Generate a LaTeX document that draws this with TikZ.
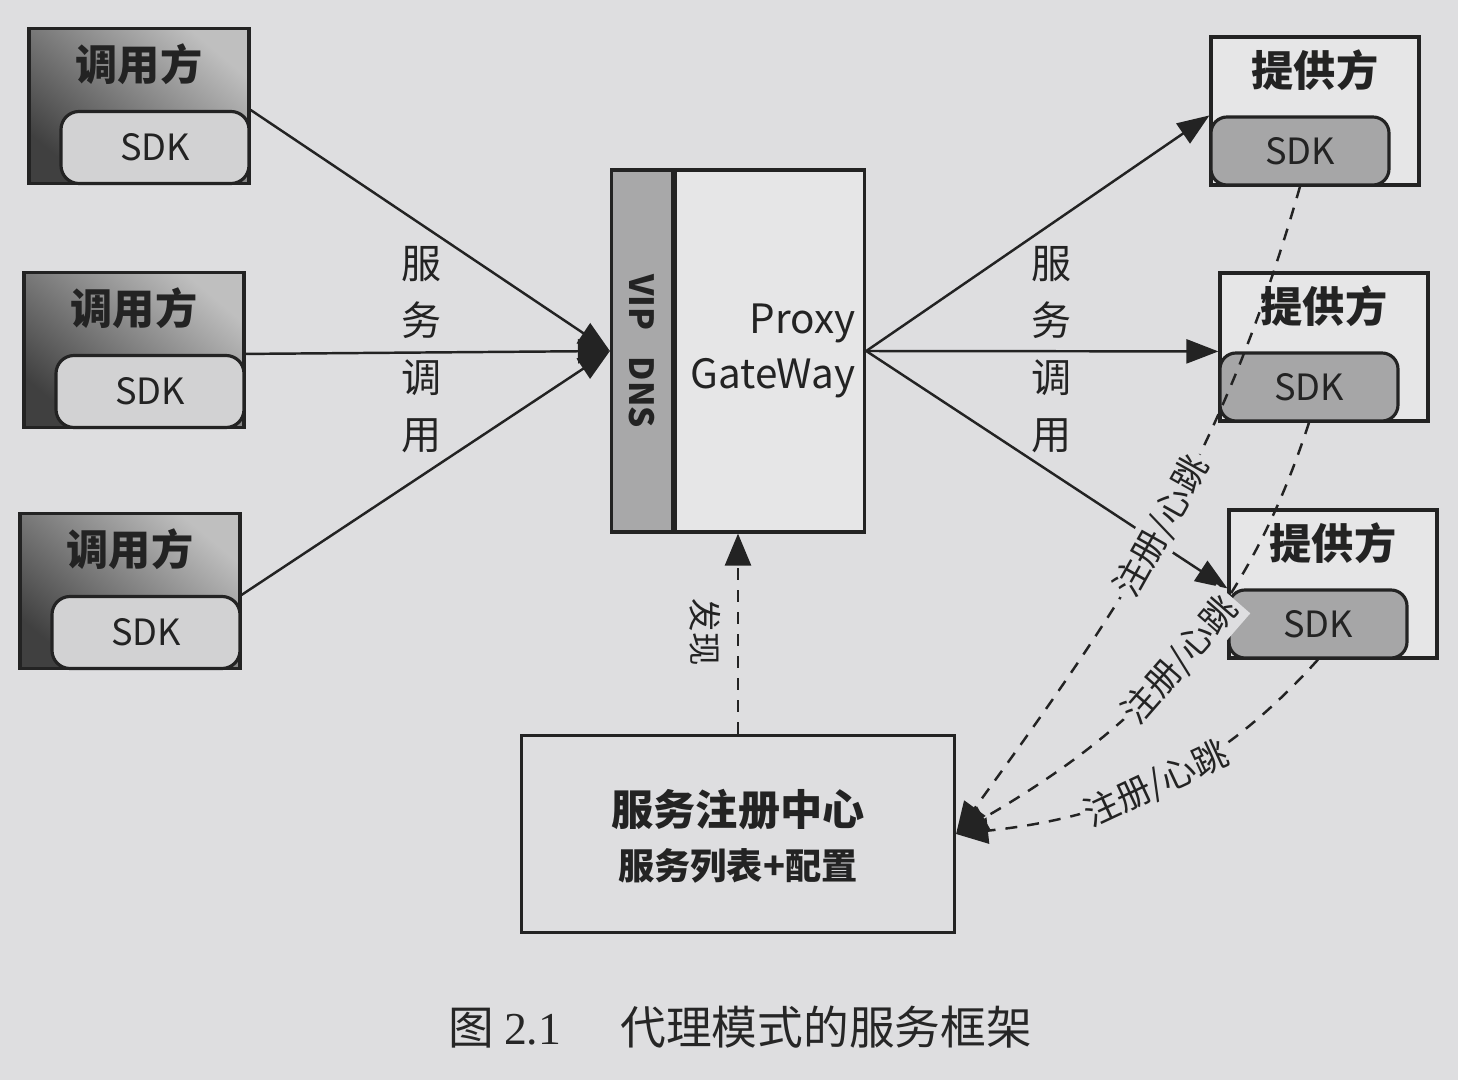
\documentclass[tikz,border=0pt]{standalone}
\usepackage{fontspec}
\setmainfont{Noto Sans CJK SC}
\newfontfamily\numfont{Liberation Serif}
\usetikzlibrary{arrows.meta,calc}

\definecolor{paper}{RGB}{222,222,224}
\definecolor{boxbg}{RGB}{230,230,231}
\definecolor{csdkbg}{RGB}{210,210,211}
\definecolor{psdkbg}{RGB}{166,166,167}
\definecolor{vipbg}{RGB}{168,168,169}
\definecolor{ink}{RGB}{35,35,35}

\tikzset{
	caller/.style={draw=ink, line width=0.9pt, minimum width=22mm, minimum height=15.5mm, inner sep=0pt,
		top color=black!25, bottom color=black!75, shading angle=-40},
	csdk/.style={draw=ink, line width=0.9pt, fill=csdkbg, rounded corners=1.8mm, minimum width=18.8mm,
		minimum height=7.2mm, inner sep=0pt, text=ink, font=\fontsize{10.3}{12}\selectfont},
	prov/.style={draw=ink, line width=0.9pt, fill=boxbg, minimum width=20.8mm, minimum height=14.8mm, inner sep=0pt},
	psdk/.style={draw=ink, line width=0.9pt, fill=psdkbg, rounded corners=1.6mm, minimum width=17.8mm,
		minimum height=6.8mm, inner sep=0pt, text=ink, font=\fontsize{10.3}{12}\selectfont},
	ttl/.style={text=ink, inner sep=0pt, font=\bfseries\fontsize{12}{14}\selectfont},
	vlbl/.style={text=ink, align=center, inner sep=0pt, font=\fontsize{11.4}{16.2}\selectfont},
	lbl/.style={text=ink, fill=paper, inner sep=1.2pt, font=\fontsize{10}{12}\selectfont},
	call/.style={draw=ink, line width=0.7pt, -{Triangle[length=3.2mm,width=2.4mm]}},
	reg/.style={draw=ink, line width=0.7pt, dash pattern=on 1.2mm off 1mm, -{Triangle[length=3.2mm,width=2.6mm]}},
}

\begin{document}
\begin{tikzpicture}[x=0.1mm,y=0.1mm]
	\fill[paper] (0,0) rectangle (1458,1080);
	\useasboundingbox (0,0) rectangle (1458,1080);
	
	% callers (left)
	\foreach \i/\x/\y in {1/139/974, 2/134/730, 3/130/489}{
		\node[caller] (c\i) at (\x,\y) {};
		\node[csdk, anchor=south east] (cs\i) at (c\i.south east) {SDK};
		\node[ttl] (ct\i) at ($(c\i.north)+(0,-37)$) {调用方};
	}
	
	% gateway
	\node[draw=ink, line width=0.9pt, fill=vipbg, minimum width=6.1mm, minimum height=36.2mm] (vip) at (642,729) {};
	\node[draw=ink, line width=0.9pt, fill=boxbg, minimum width=18.9mm, minimum height=36.2mm, anchor=west] (gw) at (vip.east) {};
	\node[rotate=-90, text=ink, font=\bfseries\fontsize{9.5}{11}\selectfont] (viptxt) at (vip.center) {VIP\hspace{0.8em}DNS};
	\node[anchor=east, align=right, inner sep=1mm, text=ink, font=\fontsize{11.5}{15.6}\selectfont] (gwtxt) at (gw.east) {Proxy\\GateWay};
	
	% providers (right)
	\foreach \i/\x/\y in {1/1315/969, 2/1324/733, 3/1333/496}{
		\node[prov] (p\i) at (\x,\y) {};
		\node[psdk, anchor=south west] (ps\i) at (p\i.south west) {SDK};
		\node[ttl] (pt\i) at ($(p\i.north)+(0,-35)$) {提供方};
	}
	
	% registry
	\node[draw=ink, line width=0.9pt, fill=paper, minimum width=43.3mm, minimum height=19.7mm] (reg) at (738,246) {};
	\node[ttl] (regt1) at (738,270) {服务注册中心};
	\node[ttl, font=\bfseries\fontsize{10.3}{12}\selectfont] (regt2) at (738,214) {服务列表+配置};
	
	% service calls
	\foreach \i in {1,2,3}{
		\draw[call] (c\i.east |- cs\i.north) -- (vip.west);
		\draw[call] (gw.east) -- (p\i.west |- ps\i.north);
	}
	\node[vlbl] (lcall) at (422,730) {服\\务\\调\\用};
	\node[vlbl] (rcall) at (1052,730) {服\\务\\调\\用};
	
	% discovery
	\draw[reg] (reg.north) -- (reg.north |- gw.south);
	\node[rotate=-90, text=ink, font=\fontsize{9.5}{11}\selectfont] (find) at (705,448) {发现};
	
	% register / heartbeat
	\draw[reg] (ps1.south) to[out=254, in=54] node[pos=0.5, sloped, lbl] (rl1) {注册/心跳} (reg.east);
	\draw[reg] (ps2.south) to[out=252, in=30] node[pos=0.49, sloped, lbl] (rl2) {注册/心跳} (reg.east);
	\draw[reg] (ps3.south) to[out=228, in=6] node[pos=0.5, sloped, lbl] (rl3) {注册/心跳} (reg.east);
	
	% caption
	\node[text=black!85, font=\fontsize{13}{15}\selectfont] (cap) at (740,53) {图 {\numfont 2.1}\hspace{1.3em}代理模式的服务框架};
\end{tikzpicture}
\end{document}
